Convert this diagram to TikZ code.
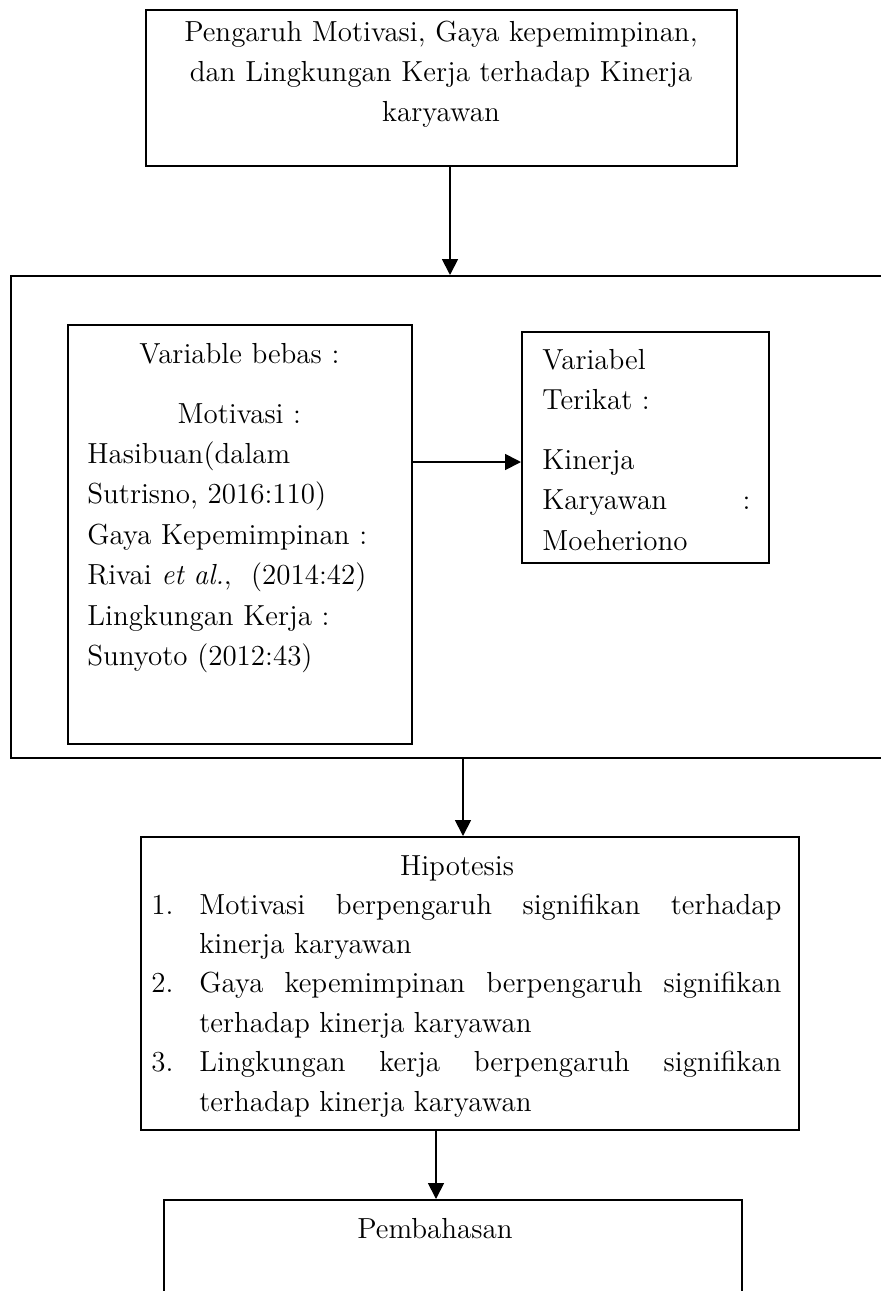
\documentclass[tikz,border=0pt]{standalone}
\usepackage{tikz}
\usetikzlibrary{arrows.meta, positioning, calc}
\tikzset{
    kotak/.style={draw=black, line width=1pt, inner sep=0pt, anchor=north west},
    teks/.style={inner sep=0pt, font=\fontsize{14.5}{20.2}\selectfont},
    panah/.style={line width=0.9pt, -{Triangle[width=8pt, length=8pt]}}
}
\begin{document}
\begin{tikzpicture}[x=0.5pt, y=-0.5pt]
        \path[use as bounding box, fill=white] (0,0) rectangle (881,1291);
        % Judul penelitian
        \node[kotak, minimum width=295.5pt, minimum height=78pt] (judul) at (145,9) {};
        \node[teks, text width=290pt, align=center, anchor=base] (judulteks) at (441,41) {Pengaruh Motivasi, Gaya kepemimpinan,\\ dan Lingkungan Kerja terhadap Kinerja\\ karyawan};

        % Kerangka variabel
        \node[kotak, minimum width=445pt, minimum height=241pt] (kerangka) at (10,275) {};
        \node[kotak, minimum width=172pt, minimum height=209.5pt] (bebas) at (67,324) {};
        \node[teks, text width=152pt, align=left, anchor=base west] (bebasteks) at (87,363) {\makebox[\linewidth]{Variable bebas :}\\[9.8pt]
            \makebox[\linewidth]{Motivasi :}\\ Hasibuan(dalam\\ Sutrisno, 2016:110)\\ Gaya Kepemimpinan :\\ Rivai \textit{et al.},\ \ (2014:42)\\ Lingkungan Kerja :\\ Sunyoto (2012:43)};
        \node[kotak, minimum width=123.5pt, minimum height=115.5pt] (terikat) at (521,331) {};
        \node[teks, text width=104pt, align=left, anchor=base west] (terikatteks) at (542,369) {Variabel\\ Terikat :\\[9.8pt] Kinerja\\ Karyawan\hfill :\\ Moeheriono};
        \coordinate (tinggi) at (0,462);
        \draw[panah] (bebas.east |- tinggi) -- (terikat.west |- tinggi);

        % Hipotesis
        \node[kotak, minimum width=329pt, minimum height=146.5pt] (hipotesis) at (140,836) {};
        \node[teks, anchor=base] (hipjudul) at (457,875) {Hipotesis};
        \node[teks, text width=315pt, align=justify, anchor=base west, font=\fontsize{14.5}{19.7}\selectfont] (hipisi) at (151,914) {%
            \noindent\hangindent=24pt\hangafter=1\makebox[24pt][l]{1.}Motivasi berpengaruh signifikan terhadap\linebreak kinerja karyawan\par
            \noindent\hangindent=24pt\hangafter=1\makebox[24pt][l]{2.}Gaya kepemimpinan berpengaruh signifikan\linebreak terhadap kinerja karyawan\par
            \noindent\hangindent=24pt\hangafter=1\makebox[24pt][l]{3.}Lingkungan kerja berpengaruh signifikan\linebreak terhadap kinerja karyawan\par};

        % Pembahasan
        \node[kotak, minimum width=289pt, minimum height=150pt] (pembahasan) at (163,1199) {};
        \node[teks, anchor=base] (pembahasanteks) at (435,1238) {Pembahasan};

        % Alur
        \coordinate (a1) at ($(judul.south)+(8.5,0)$);
        \draw[panah] (a1) -- (a1 |- kerangka.north);
        \coordinate (a2) at ($(hipotesis.north)+(-7,0)$);
        \draw[panah] (a2 |- kerangka.south) -- (a2);
        \coordinate (a3) at ($(hipotesis.south)+(-34,0)$);
        \draw[panah] (a3) -- (a3 |- pembahasan.north);
    \end{tikzpicture}
\end{document}
